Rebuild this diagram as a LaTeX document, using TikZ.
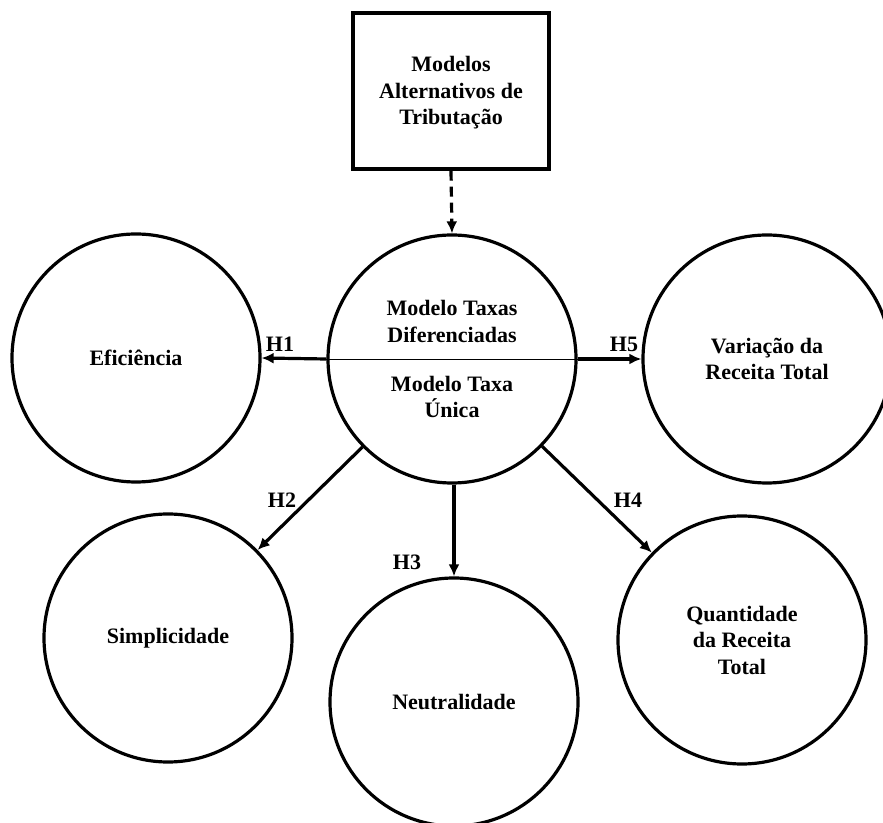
\documentclass[tikz,border=0pt]{standalone}
\usepackage{fontspec}
\setmainfont{Liberation Serif}
\usetikzlibrary{arrows.meta}
\begin{document}
\begin{tikzpicture}[x=1pt,y=1pt,
  every node/.style={font=\bfseries\fontsize{22}{26.5}\selectfont, align=center},
  construct/.style={circle, draw, line width=3.2pt, minimum size=248pt, inner sep=0pt},
  modelbox/.style={rectangle, draw, line width=3.2pt, minimum width=196pt, minimum height=156pt, inner sep=0pt},
  arr/.style={line width=3.2pt, -{Latex[length=12pt,width=11pt]}},
  dasharr/.style={arr, dash pattern=on 10pt off 6pt},
  lbl/.style={inner sep=0pt}
]
\useasboundingbox (0,0) rectangle (883,822);

% source box
\node[modelbox] (alt) at (451,731) {};
\node (altT) at (451,729) {Modelos\\Alternativos de\\Tributação};

% central construct, split by a thin line
\node[construct] (mod) at (452,463) {};
\draw[line width=0.9pt] (mod.west) -- (mod.east);
\node (modA) at (452,500.5) {Modelo Taxas\\Diferenciadas};
\node (modB) at (452,425) {Modelo Taxa\\Única};

% outcome constructs
\node[construct] (efi) at (136,464) {Eficiência};
\node[construct] (var) at (767,463) {Variação da\\Receita Total};
\node[construct] (simp) at (168,184) {Simplicidade};
\node[construct] (neut) at (454,120) {Neutralidade};
\node[construct] (quant) at (742,182) {Quantidade\\da Receita\\Total};

% connectors
\draw[dasharr] (alt.south) -- (mod.north);
\draw[arr] (mod.west) -- (efi.east);
\draw[arr] (mod.east) -- (var.west);
\draw[arr] (mod) -- (simp);
\draw[arr] (mod.south -| neut.north) -- (neut.north);
\draw[arr] (mod) -- (quant);

% hypothesis labels
\node[lbl] (h1) at (280,478) {H1};
\node[lbl] (h5) at (624,478) {H5};
\node[lbl] (h2) at (282,322) {H2};
\node[lbl] (h3) at (407,260) {H3};
\node[lbl] (h4) at (628,322) {H4};
\end{tikzpicture}
\end{document}
